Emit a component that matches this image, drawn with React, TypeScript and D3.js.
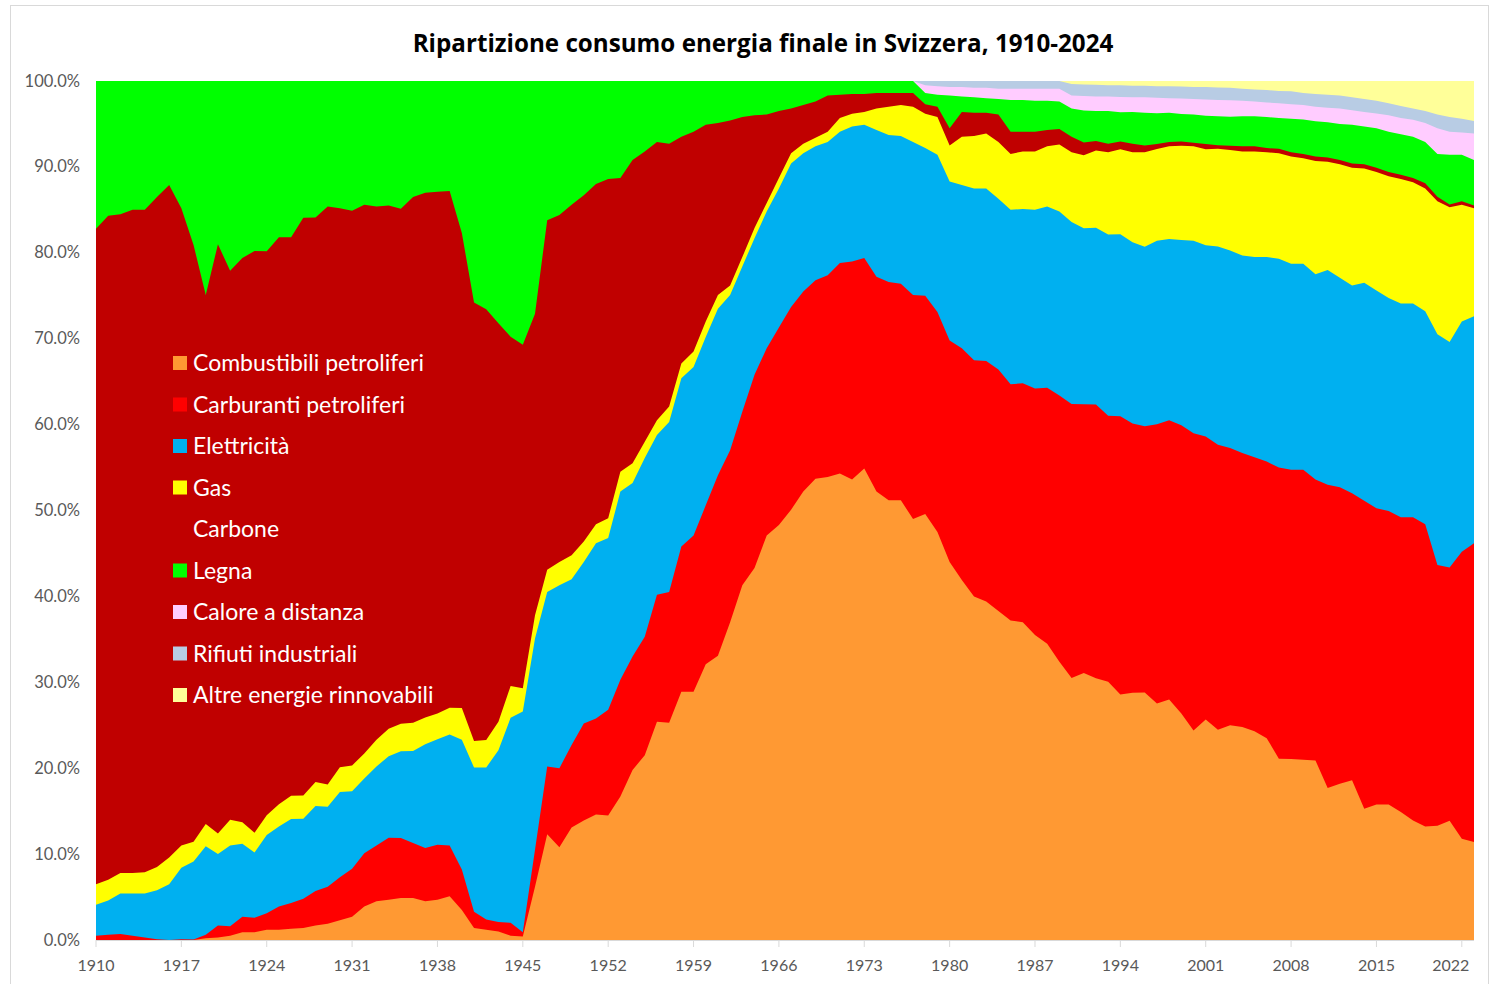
import * as d3 from "d3";
import { useEffect, useRef } from "react";

// categories
const years = d3.range(1910, 2024);

// shares of final consumption, %
const combustibili = [
  0, 0, 0, 0, 0, 0, 0, 0, 0, 0.2,
  0.3, 0.5, 0.9, 0.9, 1.2, 1.2, 1.3, 1.4, 1.7, 1.9,
  2.3, 2.7, 3.9, 4.5, 4.7, 4.9, 4.9, 4.5, 4.7, 5.1,
  3.5, 1.4, 1.2, 1.0, 0.5, 0.4, 6.2, 12.3, 10.8, 13.1,
  13.9, 14.6, 14.5, 16.7, 19.8, 21.5, 25.4, 25.3, 28.9, 28.9,
  32.1, 33.1, 37.0, 41.3, 43.3, 47.1, 48.3, 50.1, 52.2, 53.7,
  53.9, 54.3, 53.6, 54.9, 52.2, 51.2, 51.2, 49.0, 49.6, 47.5,
  44.0, 41.9, 40.0, 39.4, 38.3, 37.2, 37.0, 35.5, 34.5, 32.4,
  30.5, 31.1, 30.5, 30.1, 28.6, 28.8, 28.8, 27.6, 28.0, 26.4,
  24.4, 25.7, 24.5, 25.0, 24.8, 24.3, 23.5, 21.1, 21.1, 21.0,
  20.9, 17.7, 18.2, 18.6, 15.3, 15.8, 15.8, 14.9, 13.9, 13.2,
  13.3, 13.9, 11.8, 11.4,
];

const carburanti = [
  0.5, 0.6, 0.7, 0.5, 0.3, 0.1, 0, 0.1, 0.05, 0.4,
  1.4, 1.1, 1.8, 1.7, 1.9, 2.7, 3.0, 3.4, 4.0, 4.3,
  5.0, 5.6, 6.2, 6.5, 7.2, 7.0, 6.4, 6.2, 6.4, 5.9,
  4.7, 1.9, 1.2, 1.1, 1.5, 0.5, 4.3, 7.9, 9.2, 9.6,
  11.3, 11.2, 12.3, 13.6, 13.2, 13.8, 14.8, 15.2, 16.9, 18.2,
  18.5, 21.0, 20.0, 20.2, 22.5, 21.8, 23.0, 23.6, 23.3, 23.1,
  23.5, 24.5, 25.4, 24.5, 25.0, 25.4, 25.2, 26.1, 25.4, 25.6,
  25.8, 27.0, 27.5, 28.0, 28.1, 27.5, 27.8, 28.7, 29.8, 31.0,
  31.9, 31.3, 31.9, 31.0, 32.4, 31.4, 31.0, 32.6, 32.5, 33.6,
  34.6, 33.0, 33.2, 32.3, 31.9, 31.9, 32.2, 33.9, 33.7, 33.8,
  32.7, 35.3, 34.5, 33.4, 35.9, 34.5, 34.2, 34.3, 35.3, 35.2,
  30.4, 29.5, 33.4, 34.8,
];

const elettricita = [
  3.6, 4.0, 4.7, 4.9, 5.1, 5.7, 6.5, 8.3, 9.1, 10.3,
  8.3, 9.4, 8.5, 7.6, 9.1, 9.3, 9.8, 9.3, 9.9, 9.3,
  9.9, 9.0, 8.7, 9.2, 9.5, 10.1, 10.7, 12.1, 12.3, 12.9,
  15.1, 16.8, 17.7, 20.0, 23.9, 25.7, 24.6, 20.3, 21.3, 19.3,
  18.8, 20.4, 20.0, 21.9, 20.2, 20.8, 18.6, 19.8, 19.6, 19.6,
  19.6, 19.4, 18.1, 16.9, 15.9, 15.9, 16.2, 16.7, 16.1, 15.6,
  15.5, 15.3, 15.7, 15.5, 17.1, 17.1, 17.2, 17.8, 17.2, 18.3,
  18.5, 19.0, 20.0, 20.1, 19.9, 20.3, 20.3, 20.8, 21.1, 21.4,
  21.2, 20.5, 20.6, 21.1, 21.2, 21.1, 20.9, 21.4, 21.1, 21.6,
  22.4, 22.3, 23.1, 23.0, 23.0, 23.3, 23.8, 24.3, 24.0, 24.0,
  23.9, 25.0, 24.4, 24.2, 25.4, 25.4, 24.8, 24.9, 24.9, 24.8,
  26.9, 26.3, 26.8, 26.4,
];

const gas = [
  2.4, 2.4, 2.4, 2.4, 2.5, 2.7, 3.1, 2.6, 2.3, 2.6,
  2.4, 3.0, 2.5, 2.3, 2.3, 2.6, 2.7, 2.7, 2.8, 2.6,
  2.9, 3.0, 2.9, 3.1, 3.2, 3.2, 3.3, 3.1, 3.0, 3.1,
  3.7, 3.1, 3.2, 3.3, 3.7, 2.7, 2.7, 2.6, 2.7, 2.8,
  2.4, 2.2, 2.3, 2.3, 2.3, 1.9, 1.7, 1.8, 1.7, 1.8,
  1.8, 1.6, 1.1, 1.1, 1.2, 1.0, 1.2, 1.2, 1.1, 1.0,
  1.2, 1.6, 1.5, 1.5, 2.5, 3.3, 3.6, 4.1, 4.0, 4.4,
  4.2, 5.6, 6.1, 6.4, 6.6, 6.5, 6.7, 6.8, 7.0, 7.8,
  8.1, 8.5, 9.0, 9.6, 9.9, 10.5, 11.0, 10.7, 10.8, 11.0,
  11.0, 11.2, 11.4, 11.7, 12.1, 12.3, 12.2, 12.3, 12.5, 12.3,
  13.2, 12.6, 13.2, 13.7, 13.3, 13.8, 14.2, 14.5, 14.1, 14.3,
  15.5, 15.7, 13.6, 12.6,
];

const carbone = [
  76.3, 77.3, 76.7, 77.2, 77.1, 78.0, 78.3, 74.2, 69.5, 61.6,
  68.6, 63.9, 65.7, 67.7, 65.6, 66.0, 65.0, 67.2, 65.7, 67.3,
  65.0, 64.5, 63.9, 62.1, 60.9, 60.0, 61.2, 61.1, 60.8, 60.1,
  55.3, 51.1, 50.2, 46.4, 40.7, 40.0, 35.1, 40.7, 40.4, 40.8,
  40.3, 39.6, 39.5, 34.2, 35.3, 33.8, 32.4, 30.6, 26.4, 25.6,
  22.9, 20.0, 19.2, 16.3, 13.1, 10.3, 7.8, 5.2, 4.5, 4.2,
  4.2, 2.7, 2.3, 2.1, 1.8, 1.6, 1.4, 1.6, 1.1, 1.2,
  2.0, 2.9, 2.7, 2.4, 3.2, 2.6, 2.3, 2.3, 1.9, 1.8,
  1.8, 1.5, 1.1, 1.0, 0.9, 1.0, 0.8, 0.6, 0.5, 0.5,
  0.4, 0.6, 0.4, 0.5, 0.6, 0.6, 0.5, 0.5, 0.5, 0.5,
  0.5, 0.5, 0.5, 0.5, 0.5, 0.5, 0.5, 0.5, 0.5, 0.6,
  0.5, 0.3, 0.4, 0.3,
];

const legna = [
  17.2, 15.7, 15.5, 15.0, 15.0, 13.5, 12.1, 14.8, 19.1, 24.9,
  19.0, 22.1, 20.6, 19.8, 19.8, 18.2, 18.2, 15.9, 15.9, 14.6,
  14.8, 15.1, 14.4, 14.6, 14.5, 14.9, 13.5, 13.0, 12.9, 12.8,
  17.7, 25.8, 26.6, 28.2, 29.8, 30.7, 27.1, 16.2, 15.6, 14.4,
  13.3, 12.0, 11.4, 11.3, 9.2, 8.2, 7.1, 7.3, 6.5, 5.9,
  5.1, 4.9, 4.6, 4.2, 4.0, 3.9, 3.5, 3.2, 2.8, 2.4,
  1.7, 1.6, 1.5, 1.5, 1.4, 1.4, 1.4, 1.4, 1.3, 1.4,
  3.8, 1.8, 1.8, 1.7, 1.8, 3.7, 3.7, 3.6, 3.4, 3.2,
  3.3, 3.7, 3.5, 3.8, 3.4, 3.7, 3.8, 3.6, 3.4, 3.2,
  3.3, 3.3, 3.4, 3.4, 3.5, 3.5, 3.6, 3.6, 3.9, 4.0,
  4.1, 4.1, 4.2, 4.5, 4.4, 4.6, 4.7, 4.7, 4.8, 4.8,
  5.0, 5.8, 5.4, 5.3,
];

const calore = [
  0, 0, 0, 0, 0, 0, 0, 0, 0, 0,
  0, 0, 0, 0, 0, 0, 0, 0, 0, 0,
  0, 0, 0, 0, 0, 0, 0, 0, 0, 0,
  0, 0, 0, 0, 0, 0, 0, 0, 0, 0,
  0, 0, 0, 0, 0, 0, 0, 0, 0, 0,
  0, 0, 0, 0, 0, 0, 0, 0, 0, 0,
  0, 0, 0, 0, 0, 0, 0, 0, 0.9, 1.0,
  1.0, 1.1, 1.1, 1.2, 1.2, 1.3, 1.3, 1.4, 1.4, 1.5,
  1.5, 1.7, 1.7, 1.7, 1.8, 1.7, 1.8, 1.8, 1.7, 1.8,
  1.8, 1.9, 1.9, 1.9, 1.8, 1.7, 1.7, 1.7, 1.7, 1.7,
  1.7, 1.7, 1.8, 1.7, 1.7, 1.7, 1.9, 1.9, 2.0, 2.2,
  3.0, 2.7, 2.6, 3.1,
];

const rifiuti = [
  0, 0, 0, 0, 0, 0, 0, 0, 0, 0,
  0, 0, 0, 0, 0, 0, 0, 0, 0, 0,
  0, 0, 0, 0, 0, 0, 0, 0, 0, 0,
  0, 0, 0, 0, 0, 0, 0, 0, 0, 0,
  0, 0, 0, 0, 0, 0, 0, 0, 0, 0,
  0, 0, 0, 0, 0, 0, 0, 0, 0, 0,
  0, 0, 0, 0, 0, 0, 0, 0, 0.5, 0.6,
  0.7, 0.7, 0.8, 0.8, 0.9, 0.9, 0.9, 0.9, 0.9, 0.9,
  1.35, 1.35, 1.35, 1.3, 1.35, 1.35, 1.35, 1.35, 1.4, 1.4,
  1.4, 1.45, 1.45, 1.45, 1.4, 1.4, 1.45, 1.45, 1.5, 1.4,
  1.5, 1.5, 1.5, 1.5, 1.5, 1.5, 1.4, 1.4, 1.3, 1.4,
  1.6, 1.7, 1.6, 1.45,
];

const altre = [
  0, 0, 0, 0, 0, 0, 0, 0, 0, 0,
  0, 0, 0, 0, 0, 0, 0, 0, 0, 0,
  0, 0, 0, 0, 0, 0, 0, 0, 0, 0,
  0, 0, 0, 0, 0, 0, 0, 0, 0, 0,
  0, 0, 0, 0, 0, 0, 0, 0, 0, 0,
  0, 0, 0, 0, 0, 0, 0, 0, 0, 0,
  0, 0, 0, 0, 0, 0, 0, 0, 0, 0,
  0, 0, 0, 0, 0, 0, 0, 0, 0, 0,
  0.35, 0.4, 0.45, 0.5, 0.5, 0.55, 0.55, 0.6, 0.6, 0.65,
  0.7, 0.7, 0.75, 0.8, 0.9, 1.0, 1.05, 1.15, 1.2, 1.4,
  1.5, 1.6, 1.7, 1.9, 2.1, 2.3, 2.6, 2.9, 3.2, 3.5,
  3.9, 4.2, 4.4, 4.65,
];

const seriesNames = [
  "Combustibili petroliferi",
  "Carburanti petroliferi",
  "Elettricità",
  "Gas",
  "Carbone",
  "Legna",
  "Calore a distanza",
  "Rifiuti industriali",
  "Altre energie rinnovabili",
];

const seriesColors = [
  "#FF9933", "#FF0000", "#00B0F0", "#FFFF00", "#C00000",
  "#00FF00", "#FFCCFF", "#B8CCE4", "#FFFF99",
];

const xTickYears = d3.range(1910, 2024, 7);

export default function App() {
  const ref = useRef<SVGSVGElement>(null);

  useEffect(() => {
    const width = 1496, height = 984;
    const svg = d3.select(ref.current);
    svg.selectAll("*").remove();
    svg.attr("width", width).attr("height", height);

    const font = "Lato, 'Open Sans', sans-serif";
    const columns = [combustibili, carburanti, elettricita, gas, carbone, legna, calore, rifiuti, altre];
    const rows = years.map((year, i) => {
      const r: any = { year };
      seriesNames.forEach((k, j) => (r[k] = columns[j][i]));
      return r;
    });

    const layers = d3.stack<any>().keys(seriesNames).offset(d3.stackOffsetExpand)(rows);

    const x = d3.scaleLinear().domain([1910, 2023]).range([96, 1474]);
    const y = d3.scaleLinear().domain([0, 1]).range([940, 81]);

    svg.append("rect")
      .attr("x", 0).attr("y", 0).attr("width", width).attr("height", height)
      .attr("fill", "white");
    svg.append("rect")
      .attr("x", 10.5).attr("y", 5.5).attr("width", 1478).attr("height", 990)
      .attr("fill", "none").attr("stroke", "#d9d9d9");

    // paint from the top layer downwards, each one filled from the baseline (no seams)
    const area = d3.area<any>()
      .x(d => x(d.data.year))
      .y0(y(0))
      .y1(d => y(d[1]));

    svg.append("g")
      .selectAll("path")
      .data(layers.slice().reverse())
      .join("path")
      .attr("d", area)
      .attr("fill", d => seriesColors[d.index]);

    // x axis
    svg.append("line")
      .attr("x1", 96).attr("x2", 1474).attr("y1", 940.5).attr("y2", 940.5)
      .attr("stroke", "#d9d9d9");
    const xt = svg.append("g").selectAll("g").data(xTickYears).join("g")
      .attr("transform", d => `translate(${x(d)},0)`);
    xt.append("line")
      .attr("y1", 940).attr("y2", 947)
      .attr("stroke", "#d9d9d9");
    xt.append("text")
      .attr("y", 971)
      // the last label is pulled back inside the plot, as in the source chart
      .attr("x", (d, i) => (i === xTickYears.length - 1 ? -11 : 0))
      .attr("text-anchor", "middle")
      .attr("font-family", font)
      .attr("font-size", 16)
      .attr("fill", "#595959")
      .text(d => String(d));

    // y axis labels
    svg.append("g").selectAll("text").data(y.ticks(10)).join("text")
      .attr("x", 80)
      .attr("y", d => y(d) + 5.5)
      .attr("text-anchor", "end")
      .attr("font-family", font)
      .attr("font-size", 16.5)
      .attr("fill", "#595959")
      .text(d => d3.format(".1%")(d));

    // title
    svg.append("text")
      .attr("x", 763).attr("y", 52)
      .attr("text-anchor", "middle")
      .attr("font-family", "'Open Sans', Lato, sans-serif")
      .attr("font-weight", "bold")
      .attr("font-size", 24.2)
      .attr("fill", "#000")
      .text("Ripartizione consumo energia finale in Svizzera, 1910-2024");

    // legend
    const lg = svg.append("g").selectAll("g").data(seriesNames).join("g")
      .attr("transform", (d, i) => `translate(173,${363 + i * 41.5})`);
    lg.append("rect")
      .attr("x", 0).attr("y", -7).attr("width", 14).attr("height", 14)
      .attr("fill", (d, i) => seriesColors[i]);
    lg.append("text")
      .attr("x", 20).attr("y", 8)
      .attr("font-family", font)
      .attr("font-size", 23)
      .attr("fill", "#fff")
      .text(d => d);
  }, []);

  return (
    <svg ref={ref} style={{ position: "absolute", left: 0, top: 0 }}></svg>
  );
}
